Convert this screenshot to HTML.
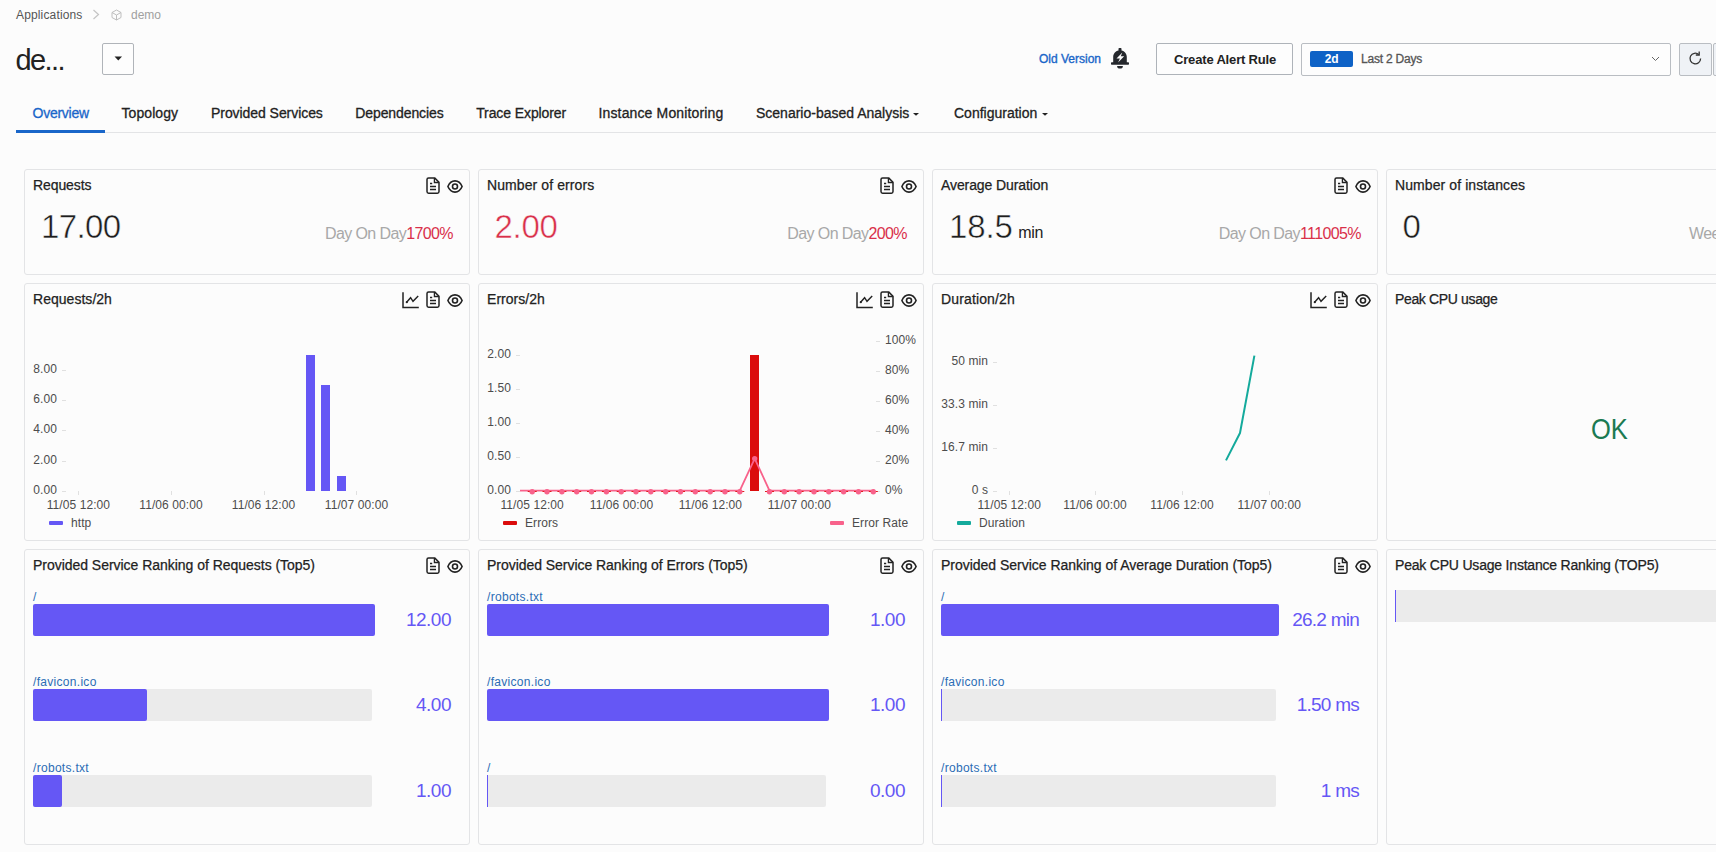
<!DOCTYPE html>
<html>
<head>
<meta charset="utf-8">
<title>demo - Overview</title>
<style>
html,body{margin:0;padding:0;}
body{width:1716px;height:852px;overflow:hidden;background:#fcfcfc;font-family:"Liberation Sans",sans-serif;color:#222;position:relative;}
.abs{position:absolute;white-space:nowrap;}
.t{position:absolute;white-space:nowrap;line-height:1;transform:translateY(-50%);}
.card{position:absolute;box-sizing:border-box;border:1px solid #e3e4e6;border-radius:3px;background:#fcfcfc;}
.ct{-webkit-text-stroke:0.25px currentColor;position:absolute;left:8px;top:7px;font-size:14px;line-height:16px;color:#222;white-space:nowrap;letter-spacing:-0.1px;}
.big{position:absolute;font-size:33px;line-height:1;white-space:nowrap;color:#1e1e1e;letter-spacing:-0.9px;-webkit-text-stroke:0.5px #fcfcfc;}
.dod{position:absolute;font-size:16px;line-height:1;white-space:nowrap;color:#a8a8a8;letter-spacing:-0.6px;}
.dod b{font-weight:normal;color:#d9304a;}
.ax{letter-spacing:0.08px;position:absolute;font-size:12px;line-height:1;white-space:nowrap;color:#4c4c4c;transform:translateY(-50%);}
.axr{text-align:right;}
.axc{transform:translate(-50%,-50%);}
.lnk{letter-spacing:0.3px;position:absolute;font-size:12px;line-height:1;white-space:nowrap;color:#2b6cb5;transform:translateY(-50%);}
.trk{position:absolute;height:32px;background:#ebebeb;border-radius:2px;}
.bar{position:absolute;height:32px;background:#6557f5;border-radius:2px;}
.val{letter-spacing:-0.5px;position:absolute;font-size:19px;line-height:1;white-space:nowrap;color:#6557f5;transform:translateY(-50%);text-align:right;}
.tab{-webkit-text-stroke:0.3px currentColor;position:absolute;font-size:14px;line-height:1;white-space:nowrap;color:#222;transform:translateY(-50%);top:113px;}
svg{position:absolute;overflow:visible;}
</style>
</head>
<body>

<!-- HEADER -->
<div id="hdr">
<div class="t" style="left:16px;top:14.5px;font-size:12px;color:#555;letter-spacing:0.15px;">Applications</div>
<svg style="left:92px;top:9px" width="8" height="11" viewBox="0 0 8 11"><path d="M1.5 1 L6.5 5.5 L1.5 10" fill="none" stroke="#c4c4c4" stroke-width="1.2"/></svg>
<svg style="left:111px;top:9px" width="11" height="12" viewBox="0 0 11 12"><path d="M5.5 1 L10 3.5 V8.5 L5.5 11 L1 8.5 V3.5 Z M1 3.5 L5.5 6 L10 3.5 M5.5 6 V11" fill="none" stroke="#bebebe" stroke-width="1"/></svg>
<div class="t" style="left:131px;top:14.5px;font-size:12px;color:#a0a0a0;">demo</div>

<div class="t" id="ttl" style="left:15.5px;top:60px;font-size:29px;color:#222;letter-spacing:-1.6px;">de...</div>
<div class="abs" style="left:102px;top:43px;width:32px;height:32px;box-sizing:border-box;border:1px solid #b0b4b9;border-radius:2px;background:#fdfdfd;"></div>
<svg style="left:113.6px;top:56.3px" width="8.6" height="5" viewBox="0 0 8 5" preserveAspectRatio="none"><path d="M0.5 0.5 H7.5 L4 4.5 Z" fill="#222"/></svg>

<div class="t" style="left:1039px;top:59px;font-size:12px;color:#1966c9;-webkit-text-stroke:0.35px #1966c9;letter-spacing:0px;" id="ov">Old Version</div>
<svg style="left:1111px;top:48px" width="18" height="21" viewBox="0 0 18 21">
<path d="M7.5 0.8 a0.8 0.8 0 0 1 0.8 -0.8 h1.4 a0.8 0.8 0 0 1 0.8 0.8 V2.5 C13.6 3.1 15.8 5.8 15.8 9 V14.2 H17.3 a0.7 0.7 0 0 1 0.7 0.7 V16.1 a0.7 0.7 0 0 1 -0.7 0.7 H0.7 a0.7 0.7 0 0 1 -0.7 -0.7 V14.9 a0.7 0.7 0 0 1 0.7 -0.7 H2.2 V9 C2.2 5.8 4.4 3.1 7.5 2.5 Z M6.1 18 H11.9 a2.9 2.6 0 0 1 -5.8 0 Z" fill="#24272c"/>
<path d="M11.3 4.6 L5.5 10.6 H8.9 L7.1 14.5 L13.2 8.3 H9.8 Z" fill="#fcfcfc"/>
</svg>

<div class="abs" style="left:1156px;top:43px;width:137px;height:32px;box-sizing:border-box;border:1px solid #aeb3b9;border-radius:2px;background:#fdfdfd;"></div>
<div class="t" id="car" style="left:1174px;top:58.5px;font-size:13px;font-weight:bold;color:#222;letter-spacing:-0.17px;">Create Alert Rule</div>

<div class="abs" style="left:1301px;top:43px;width:370px;height:33px;box-sizing:border-box;border:1px solid #b9bdc2;border-radius:2px;background:#fdfdfd;"></div>
<div class="abs" style="left:1310px;top:51px;width:43px;height:16px;background:#0e62c6;border-radius:2px;"></div>
<div class="t" style="left:1331.5px;top:59px;font-size:12px;font-weight:bold;color:#fff;transform:translate(-50%,-50%);letter-spacing:-0.3px;">2d</div>
<div class="t" id="l2d" style="left:1361px;top:59px;font-size:12px;color:#555;letter-spacing:-0.2px;-webkit-text-stroke:0.3px #555;">Last 2 Days</div>
<svg style="left:1651px;top:56px" width="9" height="6" viewBox="0 0 9 6"><path d="M1 1 L4.5 4.5 L8 1" fill="none" stroke="#666" stroke-width="1"/></svg>

<div class="abs" style="left:1679px;top:43px;width:33px;height:33px;box-sizing:border-box;border:1px solid #b9bdc2;border-radius:2px;background:#eff2f6;"></div>
<svg style="left:1688px;top:51px" width="15" height="15" viewBox="0 0 15 15"><path d="M12.6 7.5 a5.3 5.3 0 1 1 -1.8 -4" fill="none" stroke="#333" stroke-width="1.3"/><path d="M11.2 0.6 V4 H7.8" fill="none" stroke="#333" stroke-width="1.3"/></svg>
<div class="abs" style="left:1713px;top:43px;width:33px;height:33px;box-sizing:border-box;border:1px solid #b9bdc2;border-radius:2px;background:#eff2f6;"></div>

<!-- TABS -->
<div class="abs" style="left:16px;top:132px;width:1700px;height:1px;background:#e3e4e6;"></div>
<div class="abs" style="left:16px;top:130px;width:89px;height:3px;background:#1966c9;"></div>
<div class="tab" style="left:32.5px;color:#1966c9;letter-spacing:-0.25px;">Overview</div>
<div class="tab" style="left:121.5px;letter-spacing:0.08px;">Topology</div>
<div class="tab" style="left:211px;letter-spacing:-0.06px;">Provided Services</div>
<div class="tab" style="left:355.3px;letter-spacing:-0.1px;">Dependencies</div>
<div class="tab" style="left:476.2px;letter-spacing:-0.1px;">Trace Explorer</div>
<div class="tab" style="left:598.5px;letter-spacing:0.14px;">Instance Monitoring</div>
<div class="tab" style="left:756px;">Scenario-based Analysis</div>
<svg style="left:913px;top:113px" width="6" height="3" viewBox="0 0 6 4" preserveAspectRatio="none"><path d="M0 0 H6 L3 3.5 Z" fill="#222"/></svg>
<div class="tab" style="left:954px;">Configuration</div>
<svg style="left:1042px;top:113px" width="6" height="3" viewBox="0 0 6 4" preserveAspectRatio="none"><path d="M0 0 H6 L3 3.5 Z" fill="#222"/></svg>
</div>

<!-- CARDS -->
<div id="cards">

<svg width="0" height="0" style="position:absolute">
<defs>
<symbol id="i-doc" viewBox="0 0 14 17">
<path d="M2.6 0.9 H8.6 L13 5.3 V14.6 a1.6 1.6 0 0 1 -1.6 1.6 H2.6 a1.6 1.6 0 0 1 -1.6 -1.6 V2.5 a1.6 1.6 0 0 1 1.6 -1.6 Z" fill="none" stroke="#222" stroke-width="1.5" stroke-linejoin="round"/>
<path d="M8.4 1 V5.5 H12.9" fill="none" stroke="#222" stroke-width="1.3"/>
<path d="M4 6.6 H6.2 M4 9.6 H10 M4 12.6 H10" fill="none" stroke="#222" stroke-width="1.5"/>
</symbol>
<symbol id="i-eye" viewBox="0 0 16 13">
<path d="M0.9 6.5 C2.2 3.4 4.8 0.9 8 0.9 S13.8 3.4 15.1 6.5 C13.8 9.6 11.2 12.1 8 12.1 S2.2 9.6 0.9 6.5 Z" fill="none" stroke="#222" stroke-width="1.6" stroke-linejoin="round"/>
<circle cx="8" cy="6.5" r="2.5" fill="none" stroke="#222" stroke-width="1.6"/>
</symbol>
<symbol id="i-chart" viewBox="0 0 18 17">
<path d="M1 0.3 V15.6 H16.8" fill="none" stroke="#222" stroke-width="1.5"/>
<path d="M4.6 10.2 L8.6 5.7 L11 9.3 L16.2 4" fill="none" stroke="#222" stroke-width="1.4"/>
<circle cx="4.8" cy="10.2" r="1.1" fill="#222"/>
</symbol>
</defs>
</svg>
<div class="card" style="left:24px;top:169px;width:446px;height:106px;"><div class="ct">Requests</div></div>
<svg style="left:426px;top:177.4px" width="14" height="17"><use href="#i-doc"/></svg><svg style="left:447px;top:179.6px" width="16" height="13"><use href="#i-eye"/></svg>
<div class="card" style="left:478px;top:169px;width:446px;height:106px;"><div class="ct" style="letter-spacing:0.09px">Number of errors</div></div>
<svg style="left:880px;top:177.4px" width="14" height="17"><use href="#i-doc"/></svg><svg style="left:901px;top:179.6px" width="16" height="13"><use href="#i-eye"/></svg>
<div class="card" style="left:932px;top:169px;width:446px;height:106px;"><div class="ct">Average Duration</div></div>
<svg style="left:1334px;top:177.4px" width="14" height="17"><use href="#i-doc"/></svg><svg style="left:1355px;top:179.6px" width="16" height="13"><use href="#i-eye"/></svg>
<div class="card" style="left:1386px;top:169px;width:400px;height:106px;"><div class="ct" style="letter-spacing:0.09px">Number of instances</div></div>
<div class="big" id="b1" style="left:41px;top:210.3px;letter-spacing:-0.65px;">17.00</div>
<div class="big" id="b2" style="left:494.5px;top:210.3px;letter-spacing:-0.3px;color:#d9304a;">2.00</div>
<div class="big" id="b3" style="left:949px;top:210.3px;letter-spacing:-0.15px;">18.5<span style="font-size:16px;margin-left:5.5px;-webkit-text-stroke:0;letter-spacing:-0.2px;color:#222;">min</span></div>
<div class="big" id="b4" style="left:1402.5px;top:210.3px;">0</div>
<div class="dod" id="d1" style="right:1263px;top:226px;">Day On Day<b>1700%</b></div>
<div class="dod" id="d2" style="right:809px;top:226px;">Day On Day<b>200%</b></div>
<div class="dod" id="d3" style="right:355px;top:226px;">Day On Day<b>111005%</b></div>
<div class="dod" id="d4" style="left:1689px;top:226px;">Week On Week</div>
<div class="card" style="left:24px;top:283px;width:446px;height:258px;"><div class="ct" style="letter-spacing:0.03px">Requests/2h</div></div>
<svg style="left:426px;top:291.4px" width="14" height="17"><use href="#i-doc"/></svg><svg style="left:447px;top:293.6px" width="16" height="13"><use href="#i-eye"/></svg><svg style="left:402px;top:292px" width="18" height="17"><use href="#i-chart"/></svg>
<div class="card" style="left:478px;top:283px;width:446px;height:258px;"><div class="ct" style="letter-spacing:0.04px">Errors/2h</div></div>
<svg style="left:880px;top:291.4px" width="14" height="17"><use href="#i-doc"/></svg><svg style="left:901px;top:293.6px" width="16" height="13"><use href="#i-eye"/></svg><svg style="left:856px;top:292px" width="18" height="17"><use href="#i-chart"/></svg>
<div class="card" style="left:932px;top:283px;width:446px;height:258px;"><div class="ct" style="letter-spacing:0.14px">Duration/2h</div></div>
<svg style="left:1334px;top:291.4px" width="14" height="17"><use href="#i-doc"/></svg><svg style="left:1355px;top:293.6px" width="16" height="13"><use href="#i-eye"/></svg><svg style="left:1310px;top:292px" width="18" height="17"><use href="#i-chart"/></svg>
<div class="card" style="left:1386px;top:283px;width:400px;height:258px;"><div class="ct" style="letter-spacing:-0.35px">Peak CPU usage</div></div>
<!-- chart1 -->
<div class="ax axr" style="left:27px;width:30px;top:369.3px;">8.00</div><div class="abs" style="left:62px;top:370px;width:4px;height:1px;background:#e0e0e0;"></div><div class="ax axr" style="left:27px;width:30px;top:399.2px;">6.00</div><div class="abs" style="left:62px;top:400px;width:4px;height:1px;background:#e0e0e0;"></div><div class="ax axr" style="left:27px;width:30px;top:429px;">4.00</div><div class="abs" style="left:62px;top:430px;width:4px;height:1px;background:#e0e0e0;"></div><div class="ax axr" style="left:27px;width:30px;top:459.8px;">2.00</div><div class="abs" style="left:62px;top:461px;width:4px;height:1px;background:#e0e0e0;"></div><div class="ax axr" style="left:27px;width:30px;top:490px;">0.00</div><div class="abs" style="left:62px;top:491px;width:4px;height:1px;background:#e0e0e0;"></div>
<div class="ax axc" style="left:78.4px;top:504.6px;">11/05 12:00</div><div class="abs" style="left:78px;top:491px;width:1px;height:4px;background:#e0e0e0;"></div><div class="ax axc" style="left:171px;top:504.6px;">11/06 00:00</div><div class="abs" style="left:171px;top:491px;width:1px;height:4px;background:#e0e0e0;"></div><div class="ax axc" style="left:263.5px;top:504.6px;">11/06 12:00</div><div class="abs" style="left:264px;top:491px;width:1px;height:4px;background:#e0e0e0;"></div><div class="ax axc" style="left:356.5px;top:504.6px;">11/07 00:00</div><div class="abs" style="left:356px;top:491px;width:1px;height:4px;background:#e0e0e0;"></div>
<div class="abs" style="left:306px;top:355px;width:9px;height:136px;background:#6557f5;"></div><div class="abs" style="left:321px;top:385px;width:9px;height:106px;background:#6557f5;"></div><div class="abs" style="left:337px;top:476px;width:9px;height:15px;background:#6557f5;"></div>
<div class="abs" style="left:49px;top:521px;width:14px;height:4px;background:#6557f5;border-radius:1px;"></div><div class="ax" style="left:71px;top:523px;">http</div>
<!-- chart2 -->
<div class="ax axr" style="left:481px;width:30px;top:354px;">2.00</div><div class="abs" style="left:516px;top:355px;width:4px;height:1px;background:#e0e0e0;"></div><div class="ax axr" style="left:481px;width:30px;top:388px;">1.50</div><div class="abs" style="left:516px;top:389px;width:4px;height:1px;background:#e0e0e0;"></div><div class="ax axr" style="left:481px;width:30px;top:421.8px;">1.00</div><div class="abs" style="left:516px;top:423px;width:4px;height:1px;background:#e0e0e0;"></div><div class="ax axr" style="left:481px;width:30px;top:455.8px;">0.50</div><div class="abs" style="left:516px;top:457px;width:4px;height:1px;background:#e0e0e0;"></div><div class="ax axr" style="left:481px;width:30px;top:490px;">0.00</div><div class="abs" style="left:516px;top:491px;width:4px;height:1px;background:#e0e0e0;"></div>
<div class="ax" style="left:885px;top:339.5px;">100%</div><div class="abs" style="left:876px;top:341px;width:4px;height:1px;background:#e0e0e0;"></div><div class="ax" style="left:885px;top:369.6px;">80%</div><div class="abs" style="left:876px;top:371px;width:4px;height:1px;background:#e0e0e0;"></div><div class="ax" style="left:885px;top:399.7px;">60%</div><div class="abs" style="left:876px;top:401px;width:4px;height:1px;background:#e0e0e0;"></div><div class="ax" style="left:885px;top:429.7px;">40%</div><div class="abs" style="left:876px;top:431px;width:4px;height:1px;background:#e0e0e0;"></div><div class="ax" style="left:885px;top:459.8px;">20%</div><div class="abs" style="left:876px;top:461px;width:4px;height:1px;background:#e0e0e0;"></div><div class="ax" style="left:885px;top:490px;">0%</div><div class="abs" style="left:876px;top:491px;width:4px;height:1px;background:#e0e0e0;"></div>
<div class="ax axc" style="left:532.2px;top:504.6px;">11/05 12:00</div><div class="ax axc" style="left:621.5px;top:504.6px;">11/06 00:00</div><div class="ax axc" style="left:710.4px;top:504.6px;">11/06 12:00</div><div class="ax axc" style="left:799.4px;top:504.6px;">11/07 00:00</div>
<div class="abs" style="left:750px;top:355px;width:9px;height:136px;background:#db0c0c;"></div>
<svg style="left:0;top:0" width="1716" height="852"><polyline points="520.0,490.6 532.2,490.6 547.0,490.6 561.9,490.6 576.7,490.6 591.5,490.6 606.4,490.6 621.2,490.6 636.0,490.6 650.8,490.6 665.7,490.6 680.5,490.6 695.3,490.6 710.2,490.6 725.0,490.6 739.8,490.6 754.7,458.6 769.5,490.6 784.3,490.6 799.1,490.6 814.0,490.6 828.8,490.6 843.6,490.6 858.5,490.6 873.3,490.6 874.5,490.6" fill="none" stroke="#f8628b" stroke-width="1.8" stroke-linejoin="round"/><rect x="527.7" y="491" width="9" height="1" fill="#e01b1b"/><rect x="542.5" y="491" width="9" height="1" fill="#e01b1b"/><rect x="557.4" y="491" width="9" height="1" fill="#e01b1b"/><rect x="572.2" y="491" width="9" height="1" fill="#e01b1b"/><rect x="587.0" y="491" width="9" height="1" fill="#e01b1b"/><rect x="601.9" y="491" width="9" height="1" fill="#e01b1b"/><rect x="616.7" y="491" width="9" height="1" fill="#e01b1b"/><rect x="631.5" y="491" width="9" height="1" fill="#e01b1b"/><rect x="646.3" y="491" width="9" height="1" fill="#e01b1b"/><rect x="661.2" y="491" width="9" height="1" fill="#e01b1b"/><rect x="676.0" y="491" width="9" height="1" fill="#e01b1b"/><rect x="690.8" y="491" width="9" height="1" fill="#e01b1b"/><rect x="705.7" y="491" width="9" height="1" fill="#e01b1b"/><rect x="720.5" y="491" width="9" height="1" fill="#e01b1b"/><rect x="735.3" y="491" width="9" height="1" fill="#e01b1b"/><rect x="765.0" y="491" width="9" height="1" fill="#e01b1b"/><rect x="779.8" y="491" width="9" height="1" fill="#e01b1b"/><rect x="794.6" y="491" width="9" height="1" fill="#e01b1b"/><rect x="809.5" y="491" width="9" height="1" fill="#e01b1b"/><rect x="824.3" y="491" width="9" height="1" fill="#e01b1b"/><rect x="839.1" y="491" width="9" height="1" fill="#e01b1b"/><rect x="854.0" y="491" width="9" height="1" fill="#e01b1b"/><rect x="868.8" y="491" width="9" height="1" fill="#e01b1b"/><circle cx="532.2" cy="491.7" r="2.7" fill="#f8628b"/><circle cx="547.0" cy="491.7" r="2.7" fill="#f8628b"/><circle cx="561.9" cy="491.7" r="2.7" fill="#f8628b"/><circle cx="576.7" cy="491.7" r="2.7" fill="#f8628b"/><circle cx="591.5" cy="491.7" r="2.7" fill="#f8628b"/><circle cx="606.4" cy="491.7" r="2.7" fill="#f8628b"/><circle cx="621.2" cy="491.7" r="2.7" fill="#f8628b"/><circle cx="636.0" cy="491.7" r="2.7" fill="#f8628b"/><circle cx="650.8" cy="491.7" r="2.7" fill="#f8628b"/><circle cx="665.7" cy="491.7" r="2.7" fill="#f8628b"/><circle cx="680.5" cy="491.7" r="2.7" fill="#f8628b"/><circle cx="695.3" cy="491.7" r="2.7" fill="#f8628b"/><circle cx="710.2" cy="491.7" r="2.7" fill="#f8628b"/><circle cx="725.0" cy="491.7" r="2.7" fill="#f8628b"/><circle cx="739.8" cy="491.7" r="2.7" fill="#f8628b"/><circle cx="754.7" cy="458.6" r="2.7" fill="#f8628b"/><circle cx="769.5" cy="491.7" r="2.7" fill="#f8628b"/><circle cx="784.3" cy="491.7" r="2.7" fill="#f8628b"/><circle cx="799.1" cy="491.7" r="2.7" fill="#f8628b"/><circle cx="814.0" cy="491.7" r="2.7" fill="#f8628b"/><circle cx="828.8" cy="491.7" r="2.7" fill="#f8628b"/><circle cx="843.6" cy="491.7" r="2.7" fill="#f8628b"/><circle cx="858.5" cy="491.7" r="2.7" fill="#f8628b"/><circle cx="873.3" cy="491.7" r="2.7" fill="#f8628b"/></svg>
<div class="abs" style="left:503px;top:521px;width:14px;height:4px;background:#db0c0c;border-radius:1px;"></div><div class="ax" style="left:525px;top:523px;">Errors</div><div class="abs" style="left:830px;top:521px;width:14px;height:4px;background:#f8628b;border-radius:1px;"></div><div class="ax" style="left:852px;top:523px;">Error Rate</div>
<!-- chart3 -->
<div class="ax axr" style="left:928px;width:60px;top:361px;">50 min</div><div class="abs" style="left:993px;top:362px;width:4px;height:1px;background:#e0e0e0;"></div><div class="ax axr" style="left:928px;width:60px;top:403.8px;">33.3 min</div><div class="abs" style="left:993px;top:405px;width:4px;height:1px;background:#e0e0e0;"></div><div class="ax axr" style="left:928px;width:60px;top:446.8px;">16.7 min</div><div class="abs" style="left:993px;top:448px;width:4px;height:1px;background:#e0e0e0;"></div><div class="ax axr" style="left:928px;width:60px;top:490px;">0 s</div><div class="abs" style="left:993px;top:491px;width:4px;height:1px;background:#e0e0e0;"></div>
<div class="ax axc" style="left:1009.3px;top:504.6px;">11/05 12:00</div><div class="abs" style="left:1009px;top:491px;width:1px;height:4px;background:#e0e0e0;"></div><div class="ax axc" style="left:1095px;top:504.6px;">11/06 00:00</div><div class="abs" style="left:1095px;top:491px;width:1px;height:4px;background:#e0e0e0;"></div><div class="ax axc" style="left:1182px;top:504.6px;">11/06 12:00</div><div class="abs" style="left:1182px;top:491px;width:1px;height:4px;background:#e0e0e0;"></div><div class="ax axc" style="left:1269.3px;top:504.6px;">11/07 00:00</div><div class="abs" style="left:1269px;top:491px;width:1px;height:4px;background:#e0e0e0;"></div>
<svg style="left:0;top:0" width="1716" height="852"><polyline points="1226,460.4 1240,433 1254.4,355.6" fill="none" stroke="#14aa9c" stroke-width="2" stroke-linejoin="round"/></svg>
<div class="abs" style="left:957px;top:521px;width:14px;height:4px;background:#14aa9c;border-radius:1px;"></div><div class="ax" style="left:979px;top:523px;">Duration</div>
<div class="t" id="ok" style="left:1591px;top:428.5px;font-size:29px;color:#1b7a52;transform:translateY(-50%) scaleX(0.88);transform-origin:left center;">OK</div>

<div class="card" style="left:24px;top:549px;width:446px;height:296px;"><div class="ct" style="letter-spacing:-0.03px">Provided Service Ranking of Requests (Top5)</div></div>
<svg style="left:426px;top:557.4px" width="14" height="17"><use href="#i-doc"/></svg><svg style="left:447px;top:559.6px" width="16" height="13"><use href="#i-eye"/></svg>
<div class="card" style="left:478px;top:549px;width:446px;height:296px;"><div class="ct" style="letter-spacing:-0.04px">Provided Service Ranking of Errors (Top5)</div></div>
<svg style="left:880px;top:557.4px" width="14" height="17"><use href="#i-doc"/></svg><svg style="left:901px;top:559.6px" width="16" height="13"><use href="#i-eye"/></svg>
<div class="card" style="left:932px;top:549px;width:446px;height:296px;"><div class="ct" style="letter-spacing:-0.02px">Provided Service Ranking of Average Duration (Top5)</div></div>
<svg style="left:1334px;top:557.4px" width="14" height="17"><use href="#i-doc"/></svg><svg style="left:1355px;top:559.6px" width="16" height="13"><use href="#i-eye"/></svg>
<div class="card" style="left:1386px;top:549px;width:400px;height:296px;"><div class="ct" style="letter-spacing:-0.2px">Peak CPU Usage Instance Ranking (TOP5)</div></div>
<div class="lnk" style="left:33px;top:596.7px;">/</div><div class="bar" style="left:33px;top:604px;width:342px;"></div><div class="val" style="right:1265px;top:618.6px;">12.00</div>
<div class="lnk" style="left:33px;top:681.8px;">/favicon.ico</div><div class="trk" style="left:33px;top:689px;width:339px;"></div><div class="bar" style="left:33px;top:689px;width:114px;"></div><div class="val" style="right:1265px;top:703.6px;">4.00</div>
<div class="lnk" style="left:33px;top:767.7px;">/robots.txt</div><div class="trk" style="left:33px;top:775px;width:339px;"></div><div class="bar" style="left:33px;top:775px;width:28.5px;"></div><div class="val" style="right:1265px;top:789.6px;">1.00</div>
<div class="lnk" style="left:487px;top:596.7px;">/robots.txt</div><div class="bar" style="left:487px;top:604px;width:342px;"></div><div class="val" style="right:811px;top:618.6px;">1.00</div>
<div class="lnk" style="left:487px;top:681.8px;">/favicon.ico</div><div class="bar" style="left:487px;top:689px;width:342px;"></div><div class="val" style="right:811px;top:703.6px;">1.00</div>
<div class="lnk" style="left:487px;top:767.7px;">/</div><div class="trk" style="left:487px;top:775px;width:339px;"></div><div class="abs" style="left:487px;top:775px;width:1px;height:32px;background:#6557f5;"></div><div class="val" style="right:811px;top:789.6px;">0.00</div>
<div class="lnk" style="left:941px;top:596.7px;">/</div><div class="bar" style="left:941px;top:604px;width:338px;"></div><div class="val" style="right:357px;top:618.6px;letter-spacing:-0.75px;">26.2 min</div>
<div class="lnk" style="left:941px;top:681.8px;">/favicon.ico</div><div class="trk" style="left:941px;top:689px;width:335px;"></div><div class="abs" style="left:941px;top:689px;width:1px;height:32px;background:#6557f5;"></div><div class="val" style="right:357px;top:703.6px;letter-spacing:-0.75px;">1.50 ms</div>
<div class="lnk" style="left:941px;top:767.7px;">/robots.txt</div><div class="trk" style="left:941px;top:775px;width:335px;"></div><div class="abs" style="left:941px;top:775px;width:1px;height:32px;background:#6557f5;"></div><div class="val" style="right:357px;top:789.6px;letter-spacing:-0.75px;">1 ms</div>
<div class="trk" style="left:1395px;top:590px;width:340px;border-radius:0;"></div><div class="abs" style="left:1395px;top:590px;width:1px;height:32px;background:#6557f5;"></div>

</div>

</body>
</html>
